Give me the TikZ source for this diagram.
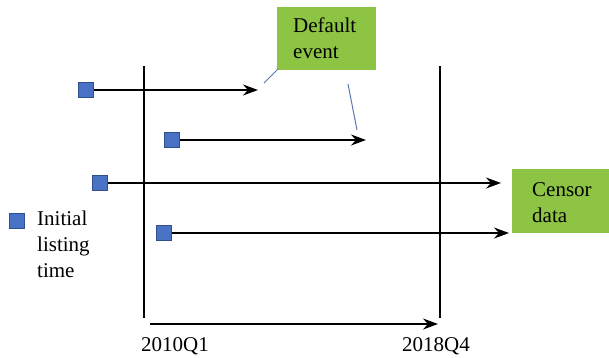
\documentclass[tikz,border=0pt]{standalone}
\usepackage{fontspec}
\setmainfont{Liberation Serif}
\usetikzlibrary{arrows.meta}
\definecolor{boxgreen}{HTML}{8EC444}
\definecolor{sqblue}{HTML}{4A72C4}
\definecolor{sqedge}{HTML}{2F4F8F}
\begin{document}
\begin{tikzpicture}[x=1pt,y=-1pt,
  sq/.style={draw=sqedge,fill=sqblue,line width=0.8pt,minimum size=15pt,inner sep=0pt},
  arr/.style={line width=1.4pt,-{Stealth[length=15pt,width=11pt]}},
  axis/.style={line width=1.4pt},
  lbl/.style={font=\fontsize{21}{26}\selectfont,inner sep=0pt},
  lead/.style={draw=sqblue!70!gray,line width=1pt}]
\useasboundingbox (0,0) rectangle (609,357);
% vertical lines
\coordinate (v1t) at (144,66); \coordinate (v1b) at (144,318);
\coordinate (v2t) at (440,66); \coordinate (v2b) at (440,318);
\draw[axis] (v1t) -- (v1b);
\draw[axis] (v2t) -- (v2b);
% bottom axis
\coordinate (ax1) at (150,324); \coordinate (ax2) at (438,324);
\draw[arr] (ax1) -- (ax2);
\node[lbl,anchor=base] (q1) at (175,351) {2010Q1};
\node[lbl,anchor=base] (q2) at (436,351) {2018Q4};
% squares and arrows
\node[sq] (s1) at (86,90) {};
\node[sq] (s2) at (172,140) {};
\node[sq] (s3) at (100,183) {};
\node[sq] (s4) at (164,233) {};
\coordinate (e1) at (258,90);
\coordinate (e2) at (366,140);
\coordinate (e3) at (501,183);
\coordinate (e4) at (509,233);
\draw[arr] (s1) -- (e1);
\draw[arr] (s2) -- (e2);
\draw[arr] (s3) -- (e3);
\draw[arr] (s4) -- (e4);
% green boxes
\fill[boxgreen] (277,7) rectangle (376,70);
\node[lbl,anchor=north west,align=left] (dtext) at (293,18) {Default\\event};
\coordinate (dbl) at (278,69);
\coordinate (dbr) at (348,84);
\coordinate (l1) at (264,83);
\coordinate (l2) at (357,130);
\draw[lead] (dbl) -- (l1);
\draw[lead] (dbr) -- (l2);
\fill[boxgreen] (512,169) rectangle (609,233);
\node[lbl,anchor=north west,align=left] (ctext) at (532,182) {Censor\\data};
% legend
\node[sq] (ls) at (17,221) {};
\node[lbl,anchor=north west,align=left] (ltext) at (37,211) {Initial\\listing\\time};
\end{tikzpicture}
\end{document}
